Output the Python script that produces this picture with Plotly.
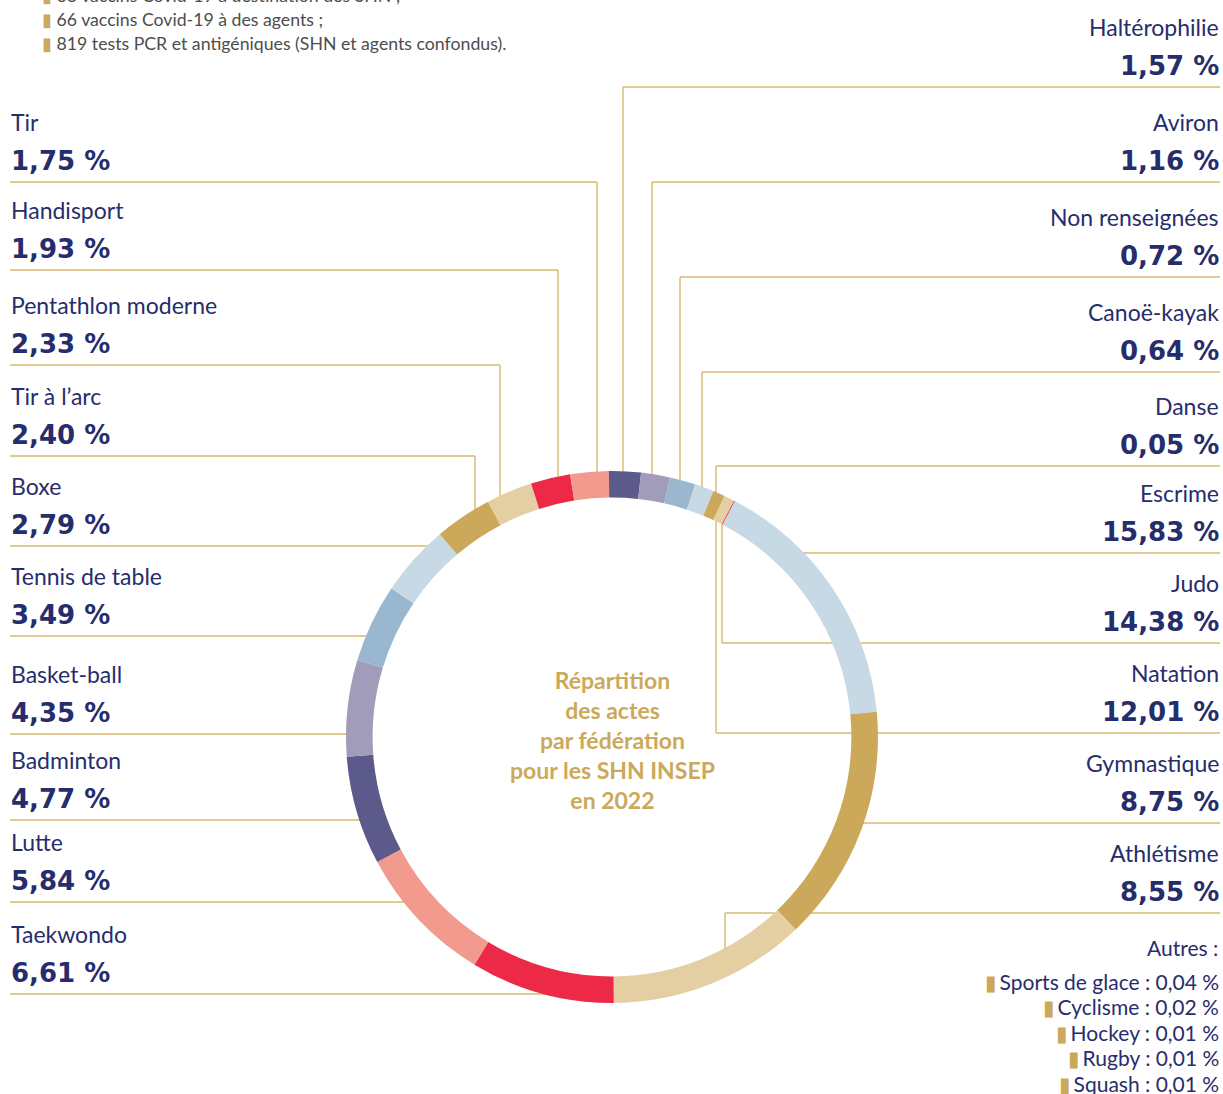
import plotly.graph_objects as go

# ---------------- data ----------------
left_names = ["Tir", "Handisport", "Pentathlon moderne", "Tir à l’arc", "Boxe",
              "Tennis de table", "Basket-ball", "Badminton", "Lutte", "Taekwondo"]
left_values = [1.75, 1.93, 2.33, 2.40, 2.79, 3.49, 4.35, 4.77, 5.84, 6.61]

right_names = ["Haltérophilie", "Aviron", "Non renseignées", "Canoë-kayak", "Danse",
               "Escrime", "Judo", "Natation", "Gymnastique", "Athlétisme"]
right_values = [1.57, 1.16, 0.72, 0.64, 0.05, 15.83, 14.38, 12.01, 8.75, 8.55]

other_names = ["Sports de glace", "Cyclisme", "Hockey", "Rugby", "Squash"]
other_values = [0.04, 0.02, 0.01, 0.01, 0.01]

intro_lines = ["68 vaccins Covid-19 à destination des SHN ;",
               "66 vaccins Covid-19 à des agents ;",
               "819 tests PCR et antigéniques (SHN et agents confondus)."]

center_title = "Répartition<br>des actes<br>par fédération<br>pour les SHN INSEP<br>en 2022"

palette = ["#c8d9e6", "#cca95a", "#e4cfa2", "#ec2a48", "#f39a8e",
           "#5c5a8a", "#a09cba", "#99b8d0"]

# ---------------- layout constants ----------------
FW, FH = 1223, 1094
CX, CY, R = 612, 737, 266
HOLE = 0.9
R_IN = R * HOLE
R_MID = (R + R_IN) / 2
NAVY = "#262d6c"
GOLD = "#cca95a"
LINE = "#d8b86e"
NAME_FONT = "Lato"
PCT_FONT = "DejaVu Sans"


def px(x):
    return x / FW


def py(y):
    return 1 - y / FH


def fmt(v):
    return f"{v:.2f}".replace(".", ",") + "\u00a0%"


# ring: all federations sorted descending
all_names = left_names + right_names
all_values = left_values + right_values
order = sorted(range(len(all_values)), key=lambda i: -all_values[i])
ring_labels = [all_names[i] for i in order]
ring_values = [all_values[i] for i in order]
ring_colors = [palette[k % len(palette)] for k in range(len(order))]

fig = go.Figure()
fig.add_trace(go.Pie(
    labels=ring_labels, values=ring_values, sort=False,
    direction="clockwise", rotation=27.5, hole=HOLE,
    marker=dict(colors=ring_colors, line=dict(width=0)),
    textinfo="none", hoverinfo="label+value", showlegend=False,
    domain=dict(x=[px(CX - R), px(CX + R)], y=[py(CY + R), py(CY - R)]),
))

shapes = []
annotations = []


def seg(x0, y0, x1, y1):
    shapes.append(dict(type="line", xref="paper", yref="paper",
                       x0=px(x0), y0=py(y0), x1=px(x1), y1=py(y1),
                       line=dict(color=LINE, width=1.4), layer="below"))


def ring_x(y, side):
    dy = y - CY
    if abs(dy) >= R_MID:
        return CX
    d = (R_MID ** 2 - dy ** 2) ** 0.5
    return CX - d if side == "left" else CX + d


def ring_y(x, top=True, r=R_MID):
    d = (r ** 2 - (x - CX) ** 2) ** 0.5
    return CY - d if top else CY + d


def label(x, y, text, anchor, font, size, color=NAVY):
    annotations.append(dict(x=px(x), y=py(y), xref="paper", yref="paper",
                            text=text, showarrow=False, xanchor=anchor, yanchor="middle",
                            font=dict(family=font, size=size, color=color)))


# underline positions (y) and leader styles
left_under = [182, 270, 365, 456, 546, 636, 734, 820, 902, 994]
left_vert = [597, 558, 500, 475, None, None, None, None, None, None]
right_under = [87, 182, 277, 372, 466, 553, 643, 733, 823, 913]

for name, val, yu, xv in zip(left_names, left_values, left_under, left_vert):
    if xv is None:
        seg(10, yu, ring_x(yu, "left"), yu)
    else:
        seg(10, yu, xv, yu)
        seg(xv, yu, xv, ring_y(xv))
    label(9, yu - 60, name, "left", NAME_FONT, 23)
    label(9, yu - 21, f"<b>{fmt(val)}</b>", "left", PCT_FONT, 26)

# right side leaders
seg(623, 87, 1220, 87); seg(623, 87, 623, ring_y(623))
seg(652, 182, 1220, 182); seg(652, 182, 652, ring_y(652))
seg(680, 277, 1220, 277); seg(680, 277, 680, ring_y(680))
seg(702, 372, 1220, 372); seg(702, 372, 702, ring_y(702))
seg(716, 466, 1220, 466); seg(716, 466, 716, 733)
seg(ring_x(553, "right"), 553, 1220, 553)
seg(722, 643, 1220, 643); seg(722, 643, 722, ring_y(722, r=R_IN))
seg(716, 733, 1220, 733)
seg(ring_x(823, "right"), 823, 1220, 823)
seg(725, 913, 1220, 913); seg(725, 913, 725, ring_y(725, top=False))

for name, val, yu in zip(right_names, right_values, right_under):
    label(1221, yu - 60, name, "right", NAME_FONT, 23)
    label(1221, yu - 21, f"<b>{fmt(val)}</b>", "right", PCT_FONT, 26)

# center title
annotations.append(dict(x=px(CX), y=py(740), xref="paper", yref="paper",
                        text=f"<b>{center_title}</b>", showarrow=False,
                        xanchor="center", yanchor="middle", align="center",
                        font=dict(family="Lato", size=23, color=GOLD)))

# intro lines (top-left)
for i, t in enumerate(intro_lines):
    label(40, -5 + 24.5 * i, f"<span style='color:{GOLD}'>▮</span> {t}", "left",
          "Lato", 17.7, "#4d4d4d")

# others (bottom-right)
label(1220, 947, "Autres :", "right", "Lato", 21)
for i, (n, v) in enumerate(zip(other_names, other_values)):
    label(1221, 981 + 25.5 * i,
          f"<span style='color:{GOLD}'>▮</span>\u2009{n} : {fmt(v)}",
          "right", "Lato", 21)

fig.update_layout(
    width=FW, height=FH, margin=dict(l=0, r=0, t=0, b=0),
    paper_bgcolor="white", plot_bgcolor="white",
    shapes=shapes, annotations=annotations, showlegend=False,
)

fig.write_html(
    "out.html",
    config={"displayModeBar": False},
    post_script="document.body.style.margin='0';document.body.style.overflow='hidden';",
)
